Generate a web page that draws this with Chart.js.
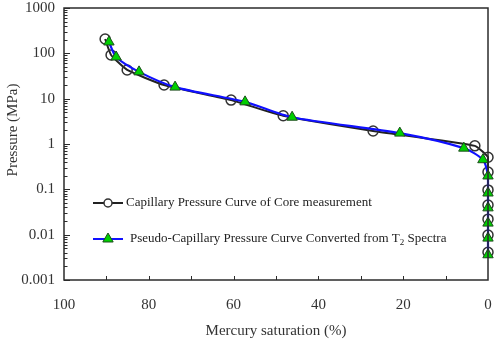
<!DOCTYPE html>
<html><head><meta charset="utf-8">
<script src="https://cdn.jsdelivr.net/npm/chart.js@4/dist/chart.umd.min.js"></script>
<style>html,body{margin:0;padding:0;background:#fff;}#wrap{width:498px;height:344px;position:relative;}</style>
</head><body><div id="wrap"><canvas id="c" width="498" height="344"></canvas></div>
<script>
const coreSaturation = [90.3, 88.9, 85.1, 76.4, 60.6, 48.3, 27.1, 3.1, 0, 0, 0, 0, 0, 0, 0];
const corePressure   = [207, 92, 43, 20, 9.3, 4.2, 1.94, 0.91, 0.51, 0.24, 0.097, 0.045, 0.022, 0.0098, 0.0041];
const t2Saturation   = [89.4, 87.7, 82.3, 73.8, 57.3, 46.2, 20.8, 5.7, 1.2, 0, 0, 0, 0, 0, 0];
const t2Pressure     = [178, 83, 39, 18, 8.5, 3.9, 1.74, 0.81, 0.45, 0.197, 0.083, 0.039, 0.018, 0.0084, 0.0036];
const xTicks = [100, 80, 60, 40, 20, 0];
const yTicks = [0.001, 0.01, 0.1, 1, 10, 100, 1000];
const yTickLabels = ['0.001', '0.01', '0.1', '1', '10', '100', '1000'];
const seriesNames = ['Capillary Pressure Curve of Core measurement', 'Pseudo-Capillary Pressure Curve Converted from T\u2082 Spectra'];
const xTitle = 'Mercury saturation (%)';
const yTitle = 'Pressure (MPa)';

const SERIF = "'Liberation Serif', 'Times New Roman', serif";
const TXT = '#333';
const LEG = 13;

function pts(xs, ys) { return xs.map((x, i) => ({x: x, y: ys[i]})); }

const deco = {
  id: 'deco',
  beforeDatasetsDraw(chart) {
    const {ctx, chartArea: a, scales: {x, y}} = chart;
    ctx.save();
    ctx.strokeStyle = '#2b2b2b';
    ctx.lineWidth = 1;
    for (let d = -3; d <= 3; d++) {
      for (let k = 1; k <= 9; k++) {
        const v = k * Math.pow(10, d);
        if (v > 1000 * 1.0001) continue;
        const py = Math.round(y.getPixelForValue(v)) + 0.5;
        const len = k === 1 ? 6 : 3.5;
        ctx.beginPath(); ctx.moveTo(a.left, py); ctx.lineTo(a.left + len, py); ctx.stroke();
      }
    }
    for (let v = 10; v <= 90; v += 10) {
      const px = Math.round(x.getPixelForValue(v)) + 0.5;
      ctx.beginPath(); ctx.moveTo(px, a.bottom); ctx.lineTo(px, a.bottom - 4); ctx.stroke();
    }
    ctx.restore();
  },
  afterDraw(chart) {
    const {ctx, chartArea: a} = chart;
    ctx.save();
    ctx.strokeStyle = '#2b2b2b';
    ctx.lineWidth = 1.5;
    ctx.strokeRect(a.left, a.top, a.right - a.left, a.bottom - a.top);
    ctx.fillStyle = TXT;
    ctx.font = '15px ' + SERIF;
    ctx.textAlign = 'center';
    ctx.textBaseline = 'middle';
    ctx.fillText(xTitle, (a.left + a.right) / 2, 331);
    ctx.save();
    ctx.translate(13, 130);
    ctx.rotate(-Math.PI / 2);
    ctx.fillText(yTitle, 0, 0);
    ctx.restore();
    const ds = chart.data.datasets;
    const rows = [203, 239];
    ds.forEach((d, i) => {
      const yy = rows[i];
      ctx.strokeStyle = d.borderColor;
      ctx.lineWidth = 2;
      ctx.beginPath(); ctx.moveTo(93, yy); ctx.lineTo(123, yy); ctx.stroke();
      ctx.fillStyle = d.pointStyle === 'circle' ? '#fff' : d.pointBackgroundColor;
      ctx.strokeStyle = d.pointBorderColor;
      ctx.lineWidth = d.pointBorderWidth;
      ctx.beginPath();
      if (d.pointStyle === 'circle') { ctx.arc(108, yy, 4, 0, Math.PI * 2); }
      else { const r = 6; for (let j = 0; j < 3; j++) { const ang = -Math.PI / 2 + j * 2 * Math.PI / 3; const px = 108 + r * Math.cos(ang), py = yy + r * Math.sin(ang); j ? ctx.lineTo(px, py) : ctx.moveTo(px, py); } ctx.closePath(); }
      ctx.fill(); ctx.stroke();
      ctx.fillStyle = '#222';
      ctx.font = LEG + 'px ' + SERIF;
      ctx.textAlign = 'left';
      ctx.textBaseline = 'middle';
      const parts = d.label.split('\u2082');
      let tx = i === 0 ? 126 : 130;
      ctx.fillText(parts[0], tx, yy);
      if (parts.length > 1) {
        tx += ctx.measureText(parts[0]).width;
        ctx.font = '9px ' + SERIF;
        ctx.fillText('2', tx, yy + 4);
        tx += ctx.measureText('2').width;
        ctx.font = LEG + 'px ' + SERIF;
        ctx.fillText(parts[1], tx, yy);
      }
    });
    ctx.restore();
  }
};

new Chart(document.getElementById('c'), {
  type: 'line',
  data: {
    datasets: [
      {
        label: seriesNames[0],
        data: pts(coreSaturation, corePressure),
        borderColor: '#222', borderWidth: 2, tension: 0.15,
        pointStyle: 'circle', pointRadius: 5, pointBorderWidth: 1.5,
        pointBorderColor: '#333', pointBackgroundColor: 'rgba(0,0,0,0)',
        clip: false, order: 2
      },
      {
        label: seriesNames[1],
        data: pts(t2Saturation, t2Pressure),
        borderColor: '#1010ff', borderWidth: 2.2, tension: 0.25,
        pointStyle: 'triangle', pointRadius: 6, pointBorderWidth: 1,
        pointBorderColor: '#1d4d1d', pointBackgroundColor: '#00d000',
        clip: false, order: 1
      }
    ]
  },
  options: {
    responsive: false, animation: false, devicePixelRatio: 1,
    layout: {padding: {top: 8, right: 10, left: 0, bottom: 0}},
    plugins: {legend: {display: false}, tooltip: {enabled: false}},
    scales: {
      x: {
        type: 'linear', min: 0, max: 100, reverse: true,
        grid: {display: false}, border: {display: false},
        afterBuildTicks: s => { s.ticks = xTicks.map(v => ({value: v})); },
        afterFit: s => { s.height = 64; s.paddingLeft = 0; s.paddingRight = 0; },
        ticks: {font: {family: SERIF, size: 15}, color: TXT, padding: 8, maxRotation: 0}
      },
      y: {
        type: 'logarithmic', min: 0.001, max: 1000,
        grid: {display: false}, border: {display: false},
        afterBuildTicks: s => { s.ticks = yTicks.map(v => ({value: v})); },
        afterFit: s => { s.width = 64; s.paddingTop = 0; s.paddingBottom = 0; },
        ticks: {font: {family: SERIF, size: 15}, color: TXT, padding: 1,
          callback: (v, i) => yTickLabels[i]}
      }
    }
  },
  plugins: [deco]
});
</script></body></html>
